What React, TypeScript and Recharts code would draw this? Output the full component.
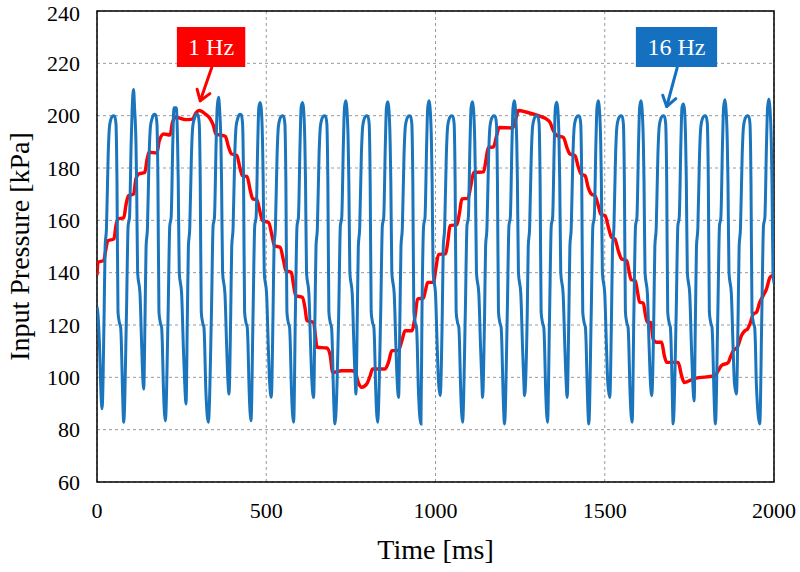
import {
  CartesianGrid,
  Line,
  LineChart,
  ReferenceArea,
  ReferenceLine,
  XAxis,
  YAxis,
} from "recharts";

const FONT = "'Liberation Serif', 'Times New Roman', serif";
const RED = "#FF0000";
const BLUE = "#1B75BC";

const xTicks = [0, 500, 1000, 1500, 2000];
const yTicks = [60, 80, 100, 120, 140, 160, 180, 200, 220, 240];

// 16 Hz trace, read pulse by pulse: wide "A" pulses and narrow "B" pulses alternate
const blueStart = [
  [0, 127],
  [3, 124],
  [8, 110],
  [12, 93],
  [15, 88],
];
const aPeakT = [49, 170, 295, 423, 548, 672, 797, 923, 1048, 1173, 1299, 1422, 1548, 1673, 1796, 1922];
const aPeakV = [200, 200.5, 200.5, 200.5, 200, 200, 200, 200, 200, 200, 200, 200, 200, 200, 200, 200];
const aLowT = [79, 202, 329, 455, 581, 703, 829, 957, 1080, 1204, 1331, 1453, 1581, 1702, 1827, 1958];
const aLowV = [82.8, 83.4, 82.8, 83.4, 82.8, 82.2, 82.8, 82.2, 82.8, 82.2, 82.8, 82.2, 82.8, 82.2, 82.2, 82.2];
const bPeakT = [108, 231, 359, 482, 607, 735, 859, 981, 1109, 1233, 1358, 1481, 1607, 1732, 1855, 1985];
const bPeakV = [210, 203, 207, 205, 205, 205.7, 205.3, 205.7, 205.3, 205.7, 205.1, 205.7, 205.7, 204.5, 206.1, 206.4];
const bLowT = [138, 263, 390, 515, 640, 765, 891, 1014, 1139, 1263, 1389, 1515, 1639, 1764, 1889];
const bLowV = [95.5, 89.8, 93.6, 92.4, 92.3, 93.6, 92.3, 93, 92.3, 93, 92.3, 92.3, 93, 91, 93.6];
const blueEnd = [2000, 136];

// edge shapes read from one magnified pair of pulses: [ms from peak, kPa]
const aRiseEdge = [[-28, 124], [-25, 150], [-21, 157], [-16, 185], [-12, 196], [-7, 199]];
const aFallEdge = [[7, 197], [10, 175], [13, 125], [17, 121], [21, 119], [23, 113], [26, 97]];
const bRiseEdge = [[-21, 124], [-16, 158], [-12, 161], [-7, 190], [-4, 203]];
const bFallEdge = [[3, 203], [7, 190], [9, 175], [12, 140], [19, 132], [24, 112], [28, 98]];

// 1 Hz staircase
const redT = [
  0, 3, 20, 25, 32, 50, 56, 62, 79, 86, 93, 108, 115, 123, 141, 148, 154, 177, 184, 197, 216, 223, 233, 261, 282, 292,
  302, 320, 335, 344, 351, 379, 389, 397, 413, 423, 430, 443, 453, 460, 472, 482, 489, 507, 517, 524, 541, 551, 558,
  574, 581, 587, 607, 615, 620, 640, 645, 650, 679, 689, 696, 723, 753, 763, 772, 782, 797, 807, 814, 851, 861, 871,
  890, 902, 910, 930, 940, 947, 964, 970, 977, 994, 1001, 1009, 1030, 1037, 1043, 1063, 1071, 1078, 1096, 1104, 1113,
  1142, 1149, 1156, 1171, 1180, 1188, 1228, 1238, 1245, 1270, 1304, 1324, 1338, 1348, 1358, 1378, 1388, 1397, 1412,
  1422, 1430, 1442, 1451, 1461, 1471, 1481, 1488, 1501, 1511, 1520, 1530, 1540, 1550, 1565, 1571, 1578, 1590, 1597,
  1603, 1614, 1620, 1626, 1636, 1643, 1653, 1668, 1676, 1683, 1717, 1727, 1735, 1766, 1825, 1835, 1845, 1865, 1872,
  1880, 1892, 1904, 1914, 1922, 1929, 1939, 1948, 1958, 1968, 1978, 1988, 1995, 2000,
];
const redV = [
  139, 144, 144.6, 148, 152.2, 152.9, 158, 160.5, 161, 166.2, 169.4, 170, 175.8, 177.7, 178.3, 183.4, 186, 185.7, 190.4,
  193, 192.6, 197.5, 199.4, 198.5, 198.7, 201, 202, 200.6, 198.7, 196.2, 193, 192.1, 187.9, 185.4, 184.8, 179.6, 177,
  176.8, 171.3, 168.2, 167.9, 163, 159.9, 159.2, 154.1, 150.3, 149.7, 144.6, 140.8, 140.1, 135, 131.2, 130.6, 126.1,
  121.7, 121, 116, 111.5, 111.2, 108.3, 101.9, 102.5, 102.5, 101.9, 98, 96.2, 97.5, 100.6, 103.2, 103.2, 105.7, 110.2,
  110.2, 114.6, 117.8, 117.8, 123.6, 130, 130.2, 133, 136.3, 136.3, 141.5, 147, 147.2, 152.5, 158, 158.3, 163, 168.2,
  168.4, 173, 178.3, 178.5, 183, 187.9, 188, 192, 195.5, 195.3, 199, 202, 201.3, 200, 199, 197.5, 194.3, 192.4, 191.7,
  187.9, 185.4, 184.7, 180.3, 177.7, 177, 172.6, 170, 169.4, 165.6, 162.4, 161.8, 157.3, 153.5, 152.9, 148.4, 145.2,
  144.6, 141, 137.3, 137, 132.5, 128.7, 128.4, 124, 121, 121, 114.6, 113.4, 113.4, 108.3, 105.7, 105.7, 100.6, 98, 99.6,
  100.6, 102.5, 104.5, 105.7, 108, 110.2, 111.5, 116, 117.8, 118.5, 120.4, 124.2, 124.8, 128.7, 131.2, 133.8, 138.2,
  138.9, 139,
];

const redArrow = [
  { x: 339, y: 218.4 },
  { x: 305, y: 205.7 },
];
const blueArrow = [
  { x: 1714, y: 218.4 },
  { x: 1683, y: 203.5 },
];

const redData = redT.map((t, i) => ({ t, v: redV[i] }));

const blueData: { t: number; v: number }[] = [];
const add = (t: number, v: number) => {
  if (t >= 0 && t <= 2000) blueData.push({ t, v });
};
blueStart.forEach(([t, v]) => add(t, v));
aPeakT.forEach((ta, i) => {
  aRiseEdge.forEach(([dt, v]) => add(ta + dt, v));
  add(ta - 3, aPeakV[i] - 0.2);
  add(ta, aPeakV[i]);
  add(ta + 3, aPeakV[i] - 0.2);
  aFallEdge.forEach(([dt, v]) => add(ta + dt, v));
  add(aLowT[i], aLowV[i]);
  const tb = bPeakT[i];
  bRiseEdge.forEach(([dt, v]) => add(tb + dt, v));
  add(tb, bPeakV[i]);
  bFallEdge.forEach(([dt, v]) => add(tb + dt, v));
  if (i < bLowT.length) add(bLowT[i], bLowV[i]);
});
add(blueEnd[0], blueEnd[1]);

const arrowShape = (color: string) => (p: any) => {
  const { x1, y1, x2, y2 } = p;
  const ang = Math.atan2(y2 - y1, x2 - x1);
  const len = 12;
  const hx = (a: number) => x2 - len * Math.cos(ang + a);
  const hy = (a: number) => y2 - len * Math.sin(ang + a);
  return (
    <g stroke={color} strokeWidth={3} fill="none" strokeLinecap="round" strokeLinejoin="round">
      <line x1={x1} y1={y1} x2={x2} y2={y2} />
      <polyline points={`${hx(0.6)},${hy(0.6)} ${x2},${y2} ${hx(-0.6)},${hy(-0.6)}`} />
    </g>
  );
};

export default function App() {
  return (
    <div style={{ position: "absolute", left: 0, top: 0, background: "#fff" }}>
      <LineChart width={800} height={572} margin={{ top: 11, right: 26, bottom: 0, left: 0 }}>
        <CartesianGrid strokeDasharray="3 3" stroke="#9a9a9a" />
        <XAxis
          dataKey="t"
          type="number"
          domain={[0, 2000]}
          ticks={xTicks}
          allowDataOverflow
          height={90}
          tickLine={false}
          axisLine={false}
          tickMargin={14}
          tick={{ fill: "#000", fontSize: 22, fontFamily: FONT }}
          label={{
            content: ({ viewBox }: any) => (
              <text
                x={viewBox.x + viewBox.width / 2}
                y={viewBox.y + 67}
                textAnchor="middle"
                dominantBaseline="central"
                fontSize={28}
                fontFamily={FONT}
                fill="#000"
              >
                Time [ms]
              </text>
            ),
          }}
        />
        <YAxis
          type="number"
          domain={[60, 240]}
          ticks={yTicks}
          allowDataOverflow
          width={97}
          tickLine={false}
          axisLine={false}
          tickMargin={11}
          tick={{ fill: "#000", fontSize: 22, fontFamily: FONT }}
          label={{
            content: ({ viewBox }: any) => {
              const cx = viewBox.x + 19;
              const cy = viewBox.y + viewBox.height / 2;
              return (
                <text
                  x={cx}
                  y={cy}
                  transform={`rotate(-90 ${cx} ${cy})`}
                  textAnchor="middle"
                  dominantBaseline="central"
                  fontSize={28}
                  fontFamily={FONT}
                  fill="#000"
                >
                  Input Pressure [kPa]
                </text>
              );
            },
          }}
        />
        <Line
          data={redData}
          dataKey="v"
          type="monotone"
          stroke={RED}
          strokeWidth={3.4}
          dot={false}
          isAnimationActive={false}
        />
        <Line
          data={blueData}
          dataKey="v"
          type="monotone"
          stroke={BLUE}
          strokeWidth={3}
          dot={false}
          isAnimationActive={false}
        />
        <ReferenceArea x1={0} x2={2000} y1={60} y2={240} fill="none" stroke="#000" strokeWidth={1.5} />
        <ReferenceArea
          x1={236}
          x2={438}
          y1={218.6}
          y2={233.9}
          fill={RED}
          fillOpacity={1}
          stroke="none"
          label={{ value: "1 Hz", position: "center", fill: "#fff", fontSize: 24, fontFamily: FONT }}
        />
        <ReferenceArea
          x1={1592}
          x2={1832}
          y1={218.6}
          y2={233.9}
          fill="#1570BF"
          fillOpacity={1}
          stroke="none"
          label={{ value: "16 Hz", position: "center", fill: "#fff", fontSize: 24, fontFamily: FONT }}
        />
        <ReferenceLine segment={redArrow} shape={arrowShape(RED)} />
        <ReferenceLine segment={blueArrow} shape={arrowShape("#1570BF")} />
      </LineChart>
    </div>
  );
}
